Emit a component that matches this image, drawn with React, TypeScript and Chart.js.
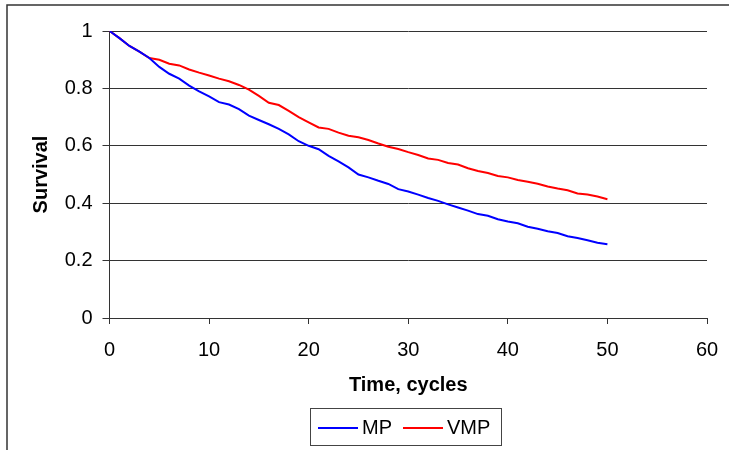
import React, { useEffect, useRef } from "react";
import { Chart, registerables } from "chart.js";

Chart.register(...registerables);

// ---- data ----
const cycles = [
  0, 1, 2, 3, 4, 5, 6, 7, 8, 9, 10, 11, 12, 13, 14, 15, 16, 17, 18, 19, 20,
  21, 22, 23, 24, 25, 26, 27, 28, 29, 30, 31, 32, 33, 34, 35, 36, 37, 38, 39,
  40, 41, 42, 43, 44, 45, 46, 47, 48, 49, 50,
];

const mpSurvival = [
  1.0, 0.975, 0.948, 0.928, 0.906, 0.875, 0.851, 0.834, 0.81, 0.79, 0.772,
  0.752, 0.744, 0.728, 0.705, 0.69, 0.675, 0.659, 0.64, 0.616, 0.6, 0.588,
  0.565, 0.546, 0.525, 0.5, 0.49, 0.478, 0.467, 0.449, 0.441, 0.43, 0.418,
  0.408, 0.396, 0.385, 0.374, 0.362, 0.356, 0.344, 0.336, 0.33, 0.318, 0.311,
  0.302, 0.296, 0.285, 0.279, 0.271, 0.262, 0.257,
];

const vmpSurvival = [
  1.0, 0.975, 0.948, 0.928, 0.906, 0.9, 0.886, 0.88, 0.866, 0.855, 0.845,
  0.834, 0.825, 0.812, 0.796, 0.774, 0.75, 0.742, 0.722, 0.7, 0.682, 0.664,
  0.659, 0.646, 0.635, 0.63, 0.62, 0.608, 0.597, 0.589, 0.578, 0.568, 0.556,
  0.551, 0.54, 0.535, 0.522, 0.512, 0.505, 0.495, 0.49, 0.481, 0.475, 0.468,
  0.458, 0.451, 0.445, 0.434, 0.43, 0.423, 0.414,
];

const yTickLabels = ["0", "0.2", "0.4", "0.6", "0.8", "1"];
const seriesLabels = ["MP", "VMP"];
const seriesColors = ["#0000FF", "#FF0000"];
const xTitle = "Time, cycles";
const yTitle = "Survival";

const FONT = "'Liberation Sans', Arial, sans-serif";

const framePlugin = {
  id: "frameAndLegend",
  afterDraw(chart: any) {
    const ctx = chart.ctx;
    ctx.save();
    // outer chart frame (left + top visible)
    ctx.strokeStyle = "#333333";
    ctx.lineWidth = 1.5;
    ctx.beginPath();
    ctx.moveTo(7, 460);
    ctx.lineTo(7, 5);
    ctx.lineTo(740, 5);
    ctx.stroke();

    // legend box
    ctx.strokeStyle = "#444444";
    ctx.lineWidth = 1;
    ctx.strokeRect(310.5, 408.5, 191, 37);

    const items = chart.data.datasets;
    const starts = [318, 403];
    ctx.font = `20px ${FONT}`;
    ctx.textBaseline = "middle";
    ctx.textAlign = "left";
    items.forEach((ds: any, i: number) => {
      const x0 = starts[i];
      ctx.strokeStyle = ds.borderColor;
      ctx.lineWidth = 2;
      ctx.beginPath();
      ctx.moveTo(x0, 428);
      ctx.lineTo(x0 + 40, 428);
      ctx.stroke();
      ctx.fillStyle = "#000";
      ctx.fillText(ds.label, x0 + 44, 428);
    });
    ctx.restore();
  },
};

export default function App() {
  const ref = useRef<HTMLCanvasElement | null>(null);

  useEffect(() => {
    if (!ref.current) return;
    const chart = new Chart(ref.current, {
      type: "line",
      data: {
        datasets: [
          {
            label: seriesLabels[0],
            data: cycles.map((c, i) => ({ x: c, y: mpSurvival[i] })),
            borderColor: seriesColors[0],
            backgroundColor: seriesColors[0],
            borderWidth: 2,
            pointRadius: 0,
            tension: 0,
          },
          {
            label: seriesLabels[1],
            data: cycles.map((c, i) => ({ x: c, y: vmpSurvival[i] })),
            borderColor: seriesColors[1],
            backgroundColor: seriesColors[1],
            borderWidth: 2,
            pointRadius: 0,
            tension: 0,
          },
        ],
      },
      options: {
        animation: false,
        responsive: false,
        devicePixelRatio: 1,
        layout: { padding: { top: 31, right: 22, left: 0, bottom: 0 } },
        plugins: {
          legend: { display: false },
          tooltip: { enabled: false },
        },
        scales: {
          x: {
            type: "linear",
            min: 0,
            max: 60,
            afterFit: (s: any) => {
              s.height = 132;
              s.paddingLeft = 0;
              s.paddingRight = 0;
            },
            ticks: {
              stepSize: 10,
              color: "#000",
              padding: 14,
              font: { family: FONT, size: 20 },
              maxRotation: 0,
            },
            grid: {
              drawOnChartArea: false,
              drawTicks: true,
              tickLength: 6,
              color: "#333",
            },
            border: { display: true, color: "#333", width: 1 },
            title: {
              display: true,
              text: xTitle,
              color: "#000",
              font: { family: FONT, size: 20, weight: "bold" },
              padding: { top: 0, bottom: 53 },
            },
          },
          y: {
            type: "linear",
            min: 0,
            max: 1,
            afterFit: (s: any) => {
              s.width = 109.5;
            },
            ticks: {
              stepSize: 0.2,
              color: "#000",
              padding: 10,
              font: { family: FONT, size: 20 },
              callback: (_v: any, i: number) => yTickLabels[i],
            },
            grid: {
              drawOnChartArea: true,
              drawTicks: true,
              tickLength: 7,
              color: "#333",
            },
            border: { display: true, color: "#333", width: 1 },
            title: {
              display: true,
              text: yTitle,
              color: "#000",
              font: { family: FONT, size: 20, weight: "bold" },
              padding: { top: 29, bottom: 0 },
            },
          },
        },
      },
      plugins: [framePlugin],
    } as any);
    return () => chart.destroy();
  }, []);

  return (
    <div style={{ position: "fixed", left: 0, top: 0, width: 729, height: 450 }}>
      <canvas ref={ref} width={729} height={450} />
    </div>
  );
}
